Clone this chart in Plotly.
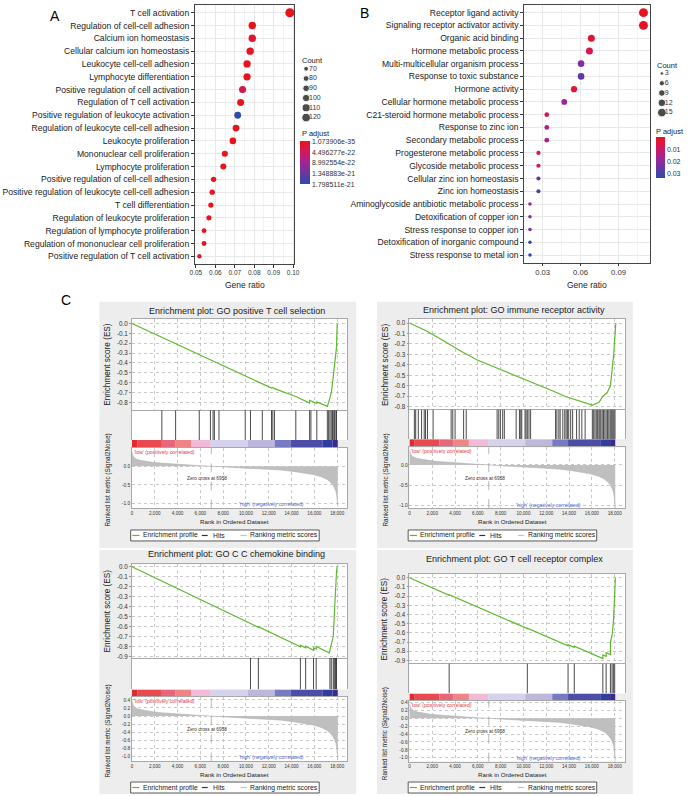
import plotly.graph_objects as go

W, H = 689, 796
FONT = "Liberation Sans, Arial, sans-serif"

# ---------------- A: GO dotplot ----------------
terms_a = ["T cell activation", "Regulation of cell-cell adhesion", "Calcium ion homeostasis",
           "Cellular calcium ion homeostasis", "Leukocyte cell-cell adhesion", "Lymphocyte differentiation",
           "Positive regulation of cell activation", "Regulation of T cell activation",
           "Positive regulation of leukocyte activation", "Regulation of leukocyte cell-cell adhesion",
           "Leukocyte proliferation", "Mononuclear cell proliferation", "Lymphocyte proliferation",
           "Positive regulation of cell-cell adhesion", "Positive regulation of leukocyte cell-cell adhesion",
           "T cell differentiation", "Regulation of leukocyte proliferation",
           "Regulation of lymphocyte proliferation", "Regulation of mononuclear cell proliferation",
           "Positive regulation of T cell activation"]
ratio_a = [0.0983, 0.0790, 0.0790, 0.0779, 0.0763, 0.0763, 0.0740, 0.0730, 0.0715, 0.0706,
           0.0690, 0.0649, 0.0641, 0.0591, 0.0584, 0.0577, 0.0567, 0.0542, 0.0542, 0.0518]
count_a = [126, 101, 101, 100, 98, 98, 95, 94, 92, 91, 89, 83, 82, 76, 75, 74, 73, 70, 70, 66]
padj_a = [1.073906e-35, 2.1e-27, 1.6e-22, 4.2e-23, 8.7e-29, 1.9e-27, 3.8e-22, 6.3e-26, 1.798511e-21, 3.3e-26,
          5.1e-27, 2.4e-27, 6.6e-27, 7.9e-24, 1.2e-23, 2.7e-24, 4.5e-25, 3.2e-24, 3.6e-24, 8.4e-23]
padj_range_a = [1.073906e-35, 1.798511e-21]
padj_ticks_a = [1.073906e-35, 4.496277e-22, 8.992554e-22, 1.348883e-21, 1.798511e-21]
padj_labels_a = ["1.073906e-35", "4.496277e-22", "8.992554e-22", "1.348883e-21", "1.798511e-21"]
count_legend_a = [70, 80, 90, 100, 110, 120]
ratio_ticks_a = [0.05, 0.06, 0.07, 0.08, 0.09, 0.10]

# ---------------- B: GO dotplot ----------------
terms_b = ["Receptor ligand activity", "Signaling receptor activator activity", "Organic acid binding",
           "Hormone metabolic process", "Multi-multicellular organism process", "Response to toxic substance",
           "Hormone activity", "Cellular hormone metabolic process", "C21-steroid hormone metabolic process",
           "Response to zinc ion", "Secondary metabolic process", "Progesterone metabolic process",
           "Glycoside metabolic process", "Cellular zinc ion homeostasis", "Zinc ion homeostasis",
           "Aminoglycoside antibiotic metabolic process", "Detoxification of copper ion",
           "Stress response to copper ion", "Detoxification of inorganic compound", "Stress response to metal ion"]
ratio_b = [0.1097, 0.1097, 0.0685, 0.0670, 0.0604, 0.0604, 0.0548, 0.0471, 0.0333, 0.0333,
           0.0333, 0.0267, 0.0267, 0.0267, 0.0267, 0.0200, 0.0200, 0.0200, 0.0200, 0.0200]
count_b = [16, 16, 10, 10, 9, 9, 8, 7, 5, 5, 5, 4, 4, 4, 4, 3, 3, 3, 3, 3]
padj_b = [0.001, 0.001, 0.003, 0.006, 0.021, 0.027, 0.003, 0.018, 0.010, 0.016,
          0.017, 0.009, 0.009, 0.026, 0.030, 0.016, 0.024, 0.024, 0.033, 0.034]
padj_range_b = [0.0002, 0.034]
padj_ticks_b = [0.01, 0.02, 0.03]
padj_labels_b = ["0.01", "0.02", "0.03"]
count_legend_b = [3, 6, 9, 12, 15]
ratio_ticks_b = [0.03, 0.06, 0.09]

# ---------------- C: GSEA plots ----------------
rank_ticks = [0, 2000, 4000, 6000, 8000, 10000, 12000, 14000, 16000, 18000]
rank_labels = ["0", "2,000", "4,000", "6,000", "8,000", "10,000", "12,000", "14,000", "16,000", "18,000"]
zero_cross = 6958

metric_rank = [0, 20, 80, 200, 400, 700, 1200, 1800, 2500, 3250, 4100, 5000, 6000, 6958, 8000, 9000,
               10500, 11900, 13100, 14200, 15100, 15900, 16600, 17100, 17400, 17650, 17800, 17900,
               17970, 18020, 18050]
metric_val = [0.38, 0.33, 0.28, 0.23, 0.19, 0.16, 0.13, 0.107, 0.085, 0.066, 0.048, 0.033, 0.016, 0.0,
              -0.017, -0.033, -0.053, -0.074, -0.10, -0.14, -0.175, -0.22, -0.28, -0.35, -0.42, -0.51,
              -0.60, -0.68, -0.80, -0.95, -1.08]

heat_edges = [0, 461, 2621, 3830, 5213, 6912, 10166, 12528, 13910, 16733, 17597, 18050]
heat_colors = ["#E02A30", "#E94A50", "#E8667A", "#EE8484", "#F2BAD6", "#D4D2EC",
               "#BDB7DC", "#7779C2", "#4D4CA6", "#2F3E9E", "#3A2A8E"]

es_ticks_8 = [0.0, -0.1, -0.2, -0.3, -0.4, -0.5, -0.6, -0.7, -0.8]
es_ticks_9 = [0.0, -0.1, -0.2, -0.3, -0.4, -0.5, -0.6, -0.7, -0.8, -0.9]
met_ticks_top = [0.0, -0.5, -1.0]
met_ticks_bottom = [0.4, 0.2, 0.0, -0.2, -0.4, -0.6, -0.8, -1.0]

title_1 = "Enrichment plot: GO positive T cell selection"
es_rank_1 = [0, 5904, 6883, 9936, 11434, 12240, 12300, 12500, 14371, 15581, 15581, 15696, 16214, 16214,
             17050, 17136, 17251, 17366, 17482, 17597, 17654, 17770, 17885, 17942, 18000]
es_val_1 = [0.0, -0.315, -0.37, -0.535, -0.615, -0.655, -0.648, -0.66, -0.74, -0.805, -0.78, -0.787,
            -0.81, -0.795, -0.835, -0.84, -0.80, -0.75, -0.70, -0.60, -0.55, -0.40, -0.30, -0.24, 0.0]
hits_1 = [2621, 3830, 5904, 6883, 7114, 7229, 7632, 9936, 10397, 11434, 12240, 12355, 12499, 14371,
          15581, 15696, 16214, 17136, 17251, 17366, 17482, 17597, 17654, 17770, 17885, 17942]

title_2 = "Enrichment plot: GO immune receptor activity"
es_rank_2 = [0, 1500, 3000, 4522, 6000, 7978, 9000, 10282, 11500, 12586, 13738, 14890, 15466, 16042,
             16618, 16963, 17338, 17626, 17914, 18058, 18100]
es_val_2 = [0.0, -0.075, -0.17, -0.27, -0.355, -0.444, -0.49, -0.54, -0.595, -0.65, -0.705, -0.746,
            -0.76, -0.784, -0.76, -0.70, -0.667, -0.60, -0.30, -0.05, 0.0]
hits_2 = [432, 547, 778, 1066, 1296, 1411, 1584, 2074, 3658, 3802, 4003, 4752, 4982, 7690, 7834, 7978,
          8179, 8323, 9360, 9648, 9763, 9850, 10138, 10224, 10339, 10483, 10627, 12816, 12931, 13104,
          13219, 13450, 13622, 13738, 13853, 13968, 14141, 14314, 14659, 14890, 15120, 15408, 16042,
          16157, 16272, 16387, 16502, 16618, 16704, 16790, 16906, 17021, 17136, 17251, 17366, 17482,
          17597, 17683, 17770, 17856, 17942, 18029]

title_3 = "Enrichment plot: GO C C chemokine binding"
es_rank_3 = [0, 10397, 10397, 11088, 11088, 14774, 14774, 15235, 15235, 15926, 15926, 16157, 16157,
             17300, 17366, 17482, 17654, 17741, 17827, 17885, 17942, 18000]
es_val_3 = [0.0, -0.57, -0.565, -0.605, -0.60, -0.80, -0.785, -0.81, -0.795, -0.835, -0.81, -0.822,
            -0.797, -0.86, -0.83, -0.78, -0.70, -0.50, -0.27, -0.17, -0.05, 0.0]
hits_3 = [10397, 11088, 14774, 15235, 15926, 16157, 17366, 17482, 17654, 17741, 17827, 17885, 17942]

title_4 = "Enrichment plot: GO T cell receptor complex"
es_rank_4 = [0, 3485, 3485, 10339, 10339, 13910, 13910, 14458, 14458, 16963, 16963, 17251, 17251,
             17626, 17626, 17770, 17885, 18000, 18058]
es_val_4 = [0.0, -0.19, -0.185, -0.553, -0.548, -0.74, -0.728, -0.757, -0.745, -0.88, -0.84, -0.855,
            -0.815, -0.835, -0.70, -0.625, -0.48, -0.19, 0.0]
hits_4 = [3485, 10339, 13910, 14458, 16963, 17251, 17626, 17770, 17885, 18000]


def fx(px):
    return px / W


def fy(py):
    return 1 - py / H


def axkey(n, c):
    return f"{c}axis" if n == 1 else f"{c}axis{n}"


def axref(n, c):
    return c if n == 1 else f"{c}{n}"


fig = go.Figure()
layout = dict(width=W, height=H, margin=dict(l=0, r=0, t=0, b=0), autosize=False,
              paper_bgcolor="white", plot_bgcolor="white", showlegend=False,
              font=dict(family=FONT, color="#222"))
shapes = []
annotations = []


def note(text, x, y, size, color="#222", xanchor="center", yanchor="middle", angle=0,
         xref="paper", yref="paper"):
    if xref == "paper":
        x = fx(x)
    if yref == "paper":
        y = fy(y)
    annotations.append(dict(text=text, x=x, y=y, xref=xref, yref=yref, showarrow=False,
                            xanchor=xanchor, yanchor=yanchor, textangle=angle, borderpad=0,
                            font=dict(size=size, color=color, family=FONT)))


colorscale = [[0, "#2A4DA6"], [0.25, "#6837A2"], [0.5, "#A32494"], [0.75, "#D4185A"], [1, "#E8141C"]]


def size_a(c):
    return (c * 1.05 - 50.0) ** 0.5


def size_b(c):
    return (c * 5.2 - 3.0) ** 0.5


def dotplot(n, terms, ratio, count, padj, prange, size_fn, x_px, y_px, xrange, xticks, xfont,
            ticks_p, labels_p, cb):
    fig.add_trace(go.Scatter(
        x=ratio, y=terms, mode="markers", xaxis=axref(n, "x"), yaxis=axref(n, "y"), hoverinfo="x+y",
        marker=dict(size=[size_fn(c) for c in count], color=[-p for p in padj], line=dict(width=0),
                    opacity=1, colorscale=colorscale, cmin=-prange[1], cmax=-prange[0], showscale=True,
                    colorbar=dict(x=fx(cb[0]), xanchor="left", y=fy(cb[1]), yanchor="top",
                                  len=cb[2], lenmode="pixels", thickness=cb[3], xpad=0, ypad=0,
                                  outlinewidth=0, ticks="", tickvals=[-v for v in ticks_p],
                                  ticktext=labels_p,
                                  tickfont=dict(size=7, color="#333", family=FONT)))))
    layout[axkey(n, "x")] = dict(
        domain=[fx(x_px[0]), fx(x_px[1])], range=xrange, anchor=axref(n, "y"),
        tickvals=xticks, ticktext=[f"{v:.2f}" for v in xticks], tickfont=dict(size=xfont, color="#333"),
        ticks="outside", ticklen=2.5, tickcolor="#333", showgrid=True, gridcolor="#E8E8E8",
        minor=dict(tick0=xticks[0] - (xticks[1] - xticks[0]) / 2, dtick=xticks[1] - xticks[0],
                   showgrid=True, gridcolor="#F3F3F3"),
        showline=True, mirror=True, linecolor="#444", linewidth=1, zeroline=False)
    layout[axkey(n, "y")] = dict(
        domain=[fy(y_px[1]), fy(y_px[0])], anchor=axref(n, "x"), type="category",
        categoryorder="array", categoryarray=terms[::-1], range=[-0.6, len(terms) - 0.4],
        tickfont=dict(size=8.6, color="#1a1a1a"), ticks="outside", ticklen=3, tickcolor="#333",
        showgrid=True, gridcolor="#E8E8E8", showline=True, mirror=True, linecolor="#444",
        linewidth=1, zeroline=False)


def size_legend(n, counts, size_fn, x_px, y_px, xrange, yrange, xm, xt):
    fig.add_trace(go.Scatter(x=[xm] * len(counts), y=counts, mode="markers", hoverinfo="skip",
                             marker=dict(size=[size_fn(c) for c in counts], color="black"),
                             xaxis=axref(n, "x"), yaxis=axref(n, "y")))
    fig.add_trace(go.Scatter(x=[xt] * len(counts), y=counts, mode="text", hoverinfo="skip",
                             text=[str(c) for c in counts], textposition="middle right",
                             textfont=dict(size=7, color="#333", family=FONT),
                             xaxis=axref(n, "x"), yaxis=axref(n, "y")))
    layout[axkey(n, "x")] = dict(domain=[fx(x_px[0]), fx(x_px[1])], range=xrange, visible=False,
                                 anchor=axref(n, "y"))
    layout[axkey(n, "y")] = dict(domain=[fy(y_px[1]), fy(y_px[0])], range=yrange, visible=False,
                                 anchor=axref(n, "x"))


dotplot(1, terms_a, ratio_a, count_a, padj_a, padj_range_a, size_a, (193, 294), (4, 264),
        [0.0495, 0.1006], ratio_ticks_a, 6.5, padj_ticks_a, padj_labels_a, (300, 141, 43, 10))
size_legend(2, count_legend_a, size_a, (300, 330), (60, 126), [0, 6], [129.2, 61.8], 1.2, 1.8)
dotplot(3, terms_b, ratio_b, count_b, padj_b, padj_range_b, size_b, (527.7, 655), (4, 262.7),
        [0.0155, 0.1145], ratio_ticks_b, 7.7, padj_ticks_b, padj_labels_b, (661.5, 137, 41, 9))
size_legend(4, count_legend_b, size_b, (660, 689), (66, 118), [0, 5.8], [16.83, 0.95], 1.5, 2.1)

note("Gene ratio", 243.5, 285, 8.5)
note("Gene ratio", 591.4, 285, 8.5)
note("Count", 301, 59.5, 7.5, xanchor="left")
note("P adjust", 300.5, 133, 7.5, xanchor="left")
note("Count", 661.5, 64.5, 7.5, xanchor="left")
note("P adjust", 661, 130.5, 7.5, xanchor="left")
note("A", 51, 15, 14, color="black")
note("B", 365, 12.5, 14, color="black")
note("C", 62, 300, 14, color="black")

# ---------------- GSEA panels ----------------
panels = [
    dict(title=title_1, es_rank=es_rank_1, es_val=es_val_1, hits=hits_1, left=129, bg=(96, 302, 357, 549),
         title_y=310.7, es=(319, 410.7), hit=(410.7, 440.7), heat=(440.7, 448.7), met=(448.7, 509.3),
         es_range=[-0.878, 0.047], es_ticks=es_ticks_8, met_range=[-1.13, 0.49], met_ticks=met_ticks_top,
         xtitle_y=522, leg=(531, 542)),
    dict(title=title_2, es_rank=es_rank_2, es_val=es_val_2, hits=hits_2, left=411, bg=(378, 302, 638, 549),
         title_y=310, es=(319.3, 410), hit=(410, 440), heat=(440, 448), met=(448, 509),
         es_range=[-0.826, 0.038], es_ticks=es_ticks_8, met_range=[-1.066, 0.436], met_ticks=met_ticks_top,
         xtitle_y=522, leg=(531, 542)),
    dict(title=title_3, es_rank=es_rank_3, es_val=es_val_3, hits=hits_3, left=129, bg=(96, 551, 357, 796),
         title_y=555, es=(565.5, 659.3), hit=(659.3, 691), heat=(691, 698.7), met=(698.7, 763.3),
         es_range=[-0.91, 0.023], es_ticks=es_ticks_9, met_range=[-1.12, 0.47], met_ticks=met_ticks_bottom,
         xtitle_y=776.7, leg=(784, 795)),
    dict(title=title_4, es_rank=es_rank_4, es_val=es_val_4, hits=hits_4, left=411, bg=(378, 551, 638, 796),
         title_y=560, es=(575, 665), hit=(665, 695), heat=(695, 702.7), met=(702.7, 763.5),
         es_range=[-0.933, 0.043], es_ticks=es_ticks_9, met_range=[-1.10, 0.44], met_ticks=met_ticks_bottom,
         xtitle_y=776.7, leg=(784, 795)),
]

rank_range = [0, 18900]
heat_mid = [(a + b) / 2 for a, b in zip(heat_edges[:-1], heat_edges[1:])]
heat_w = [b - a for a, b in zip(heat_edges[:-1], heat_edges[1:])]
frame = dict(showline=True, mirror=True, linecolor="#A8A8A8", linewidth=0.8, zeroline=False)
grid = dict(showgrid=True, gridcolor="#C8C8C8", griddash="dot", gridwidth=0.6)

for k, p in enumerate(panels):
    n = 5 + 4 * k
    L = p["left"]
    xdom = [fx(L), fx(L + 219)]
    bx0, by0, bx1, by1 = p["bg"]
    shapes.append(dict(type="rect", xref="paper", yref="paper", x0=fx(bx0), x1=fx(bx1), y0=fy(by1),
                       y1=fy(by0), fillcolor="#EDEDED", line=dict(width=0), layer="below"))
    for j in (0, 1, 3):
        shapes.append(dict(type="rect", xref=f"x{n + j} domain", yref=f"y{n + j} domain", x0=0, x1=1,
                           y0=0, y1=1, fillcolor="white", line=dict(width=0), layer="below"))

    # enrichment score
    fig.add_trace(go.Scatter(x=p["es_rank"], y=p["es_val"], mode="lines", xaxis=f"x{n}", yaxis=f"y{n}",
                             line=dict(color="#5DB92C", width=1.2), hoverinfo="skip"))
    layout[f"xaxis{n}"] = dict(domain=xdom, range=rank_range, anchor=f"y{n}", tickvals=rank_ticks,
                               showticklabels=False, ticks="", **grid, **frame)
    layout[f"yaxis{n}"] = dict(domain=[fy(p["es"][1]), fy(p["es"][0])], range=p["es_range"], anchor=f"x{n}",
                               tickvals=p["es_ticks"], ticktext=[f"{v:.1f}" for v in p["es_ticks"]],
                               tickfont=dict(size=6.3, color="#333"), ticks="outside", ticklen=2,
                               tickcolor="#999", **grid, **frame)

    # hits
    hx, hy = [], []
    for h in p["hits"]:
        hx += [h, h, None]
        hy += [0, 1, None]
    fig.add_trace(go.Scatter(x=hx, y=hy, mode="lines", xaxis=f"x{n + 1}", yaxis=f"y{n + 1}",
                             line=dict(color="#1E1E1E", width=0.8), hoverinfo="skip"))
    layout[f"xaxis{n + 1}"] = dict(domain=xdom, range=rank_range, anchor=f"y{n + 1}", visible=False)
    layout[f"yaxis{n + 1}"] = dict(domain=[fy(p["hit"][1]), fy(p["hit"][0])], range=[0, 1],
                                   anchor=f"x{n + 1}", showticklabels=False, ticks="", showgrid=False,
                                   **frame)

    # ranked list heat bar
    fig.add_trace(go.Bar(x=heat_mid, y=[1] * len(heat_mid), width=heat_w, base=0,
                         marker=dict(color=heat_colors, line=dict(width=0)),
                         xaxis=f"x{n + 2}", yaxis=f"y{n + 2}", hoverinfo="skip"))
    layout[f"xaxis{n + 2}"] = dict(domain=xdom, range=rank_range, anchor=f"y{n + 2}", visible=False)
    layout[f"yaxis{n + 2}"] = dict(domain=[fy(p["heat"][1]), fy(p["heat"][0])], range=[0, 1],
                                   anchor=f"x{n + 2}", visible=False)

    # ranked list metric
    fig.add_trace(go.Scatter(x=metric_rank, y=metric_val, mode="lines", fill="tozeroy",
                             fillcolor="#BFBFBF", line=dict(color="#B0B0B0", width=0.6),
                             xaxis=f"x{n + 3}", yaxis=f"y{n + 3}", hoverinfo="skip"))
    layout[f"xaxis{n + 3}"] = dict(domain=xdom, range=rank_range, anchor=f"y{n + 3}", tickvals=rank_ticks,
                                   ticktext=rank_labels, tickfont=dict(size=4.6, color="#333"),
                                   ticks="", **grid, **frame)
    layout[f"yaxis{n + 3}"] = dict(domain=[fy(p["met"][1]), fy(p["met"][0])], range=p["met_range"],
                                   anchor=f"x{n + 3}", tickvals=p["met_ticks"],
                                   ticktext=[f"{v:.1f}" for v in p["met_ticks"]],
                                   tickfont=dict(size=4.8, color="#333"), ticks="", **grid, **frame)
    shapes.append(dict(type="line", xref=f"x{n + 3}", yref=f"y{n + 3} domain", x0=zero_cross, x1=zero_cross,
                       y0=0, y1=1, line=dict(color="#9A9A9A", width=0.7, dash="dash")))

    note(p["title"], L + 106.7, p["title_y"], 9, color="#1a1a1a")
    note("Enrichment score (ES)", L - 25, (p["es"][0] + p["es"][1]) / 2, 8.2, color="#1a1a1a", angle=-90)
    note("Ranked list metric (Signal2Noise)", L - 24, (p["met"][0] + p["met"][1]) / 2 + 2, 6.3,
         color="#1a1a1a", angle=-90)
    note("Rank in Ordered Dataset", L + 104.5, p["xtitle_y"], 6.2, color="#1a1a1a")
    note("'low' (positively correlated)", L + 1, p["heat"][1] + 3.8, 5.2, color="#E0404A", xanchor="left")
    note("'high' (negatively correlated)", 12200, -1.0, 5.2, color="#5468CC",
         xref=f"x{n + 3}", yref=f"y{n + 3}")
    note(f"Zero cross at {zero_cross}", 6600, -0.33, 4.8, color="#333", xref=f"x{n + 3}", yref=f"y{n + 3}")

    # legend box
    ly0, ly1 = p["leg"]
    lm = (ly0 + ly1) / 2
    shapes.append(dict(type="rect", xref="paper", yref="paper", x0=fx(L - 1.3), x1=fx(L + 190.3),
                       y0=fy(ly1), y1=fy(ly0), fillcolor="white", line=dict(color="#333", width=0.8)))
    for (a, b), col, label, tx in [((0.3, 7.7), "#5DB92C", "Enrichment profile", 10),
                                   ((71, 77), "#333333", "Hits", 81),
                                   ((110.3, 116.7), "#C4C4C4", "Ranking metric scores", 119.3)]:
        shapes.append(dict(type="line", xref="paper", yref="paper", x0=fx(L + a), x1=fx(L + b),
                           y0=fy(lm), y1=fy(lm), line=dict(color=col, width=1.2)))
        note(label, L + tx, lm, 6.8, color="#1a1a1a", xanchor="left")

layout["shapes"] = shapes
layout["annotations"] = annotations
fig.update_layout(**layout)
fig.write_html("out.html", config={"displayModeBar": False},
               post_script="document.body.style.margin='0';document.body.style.overflow='hidden';")
